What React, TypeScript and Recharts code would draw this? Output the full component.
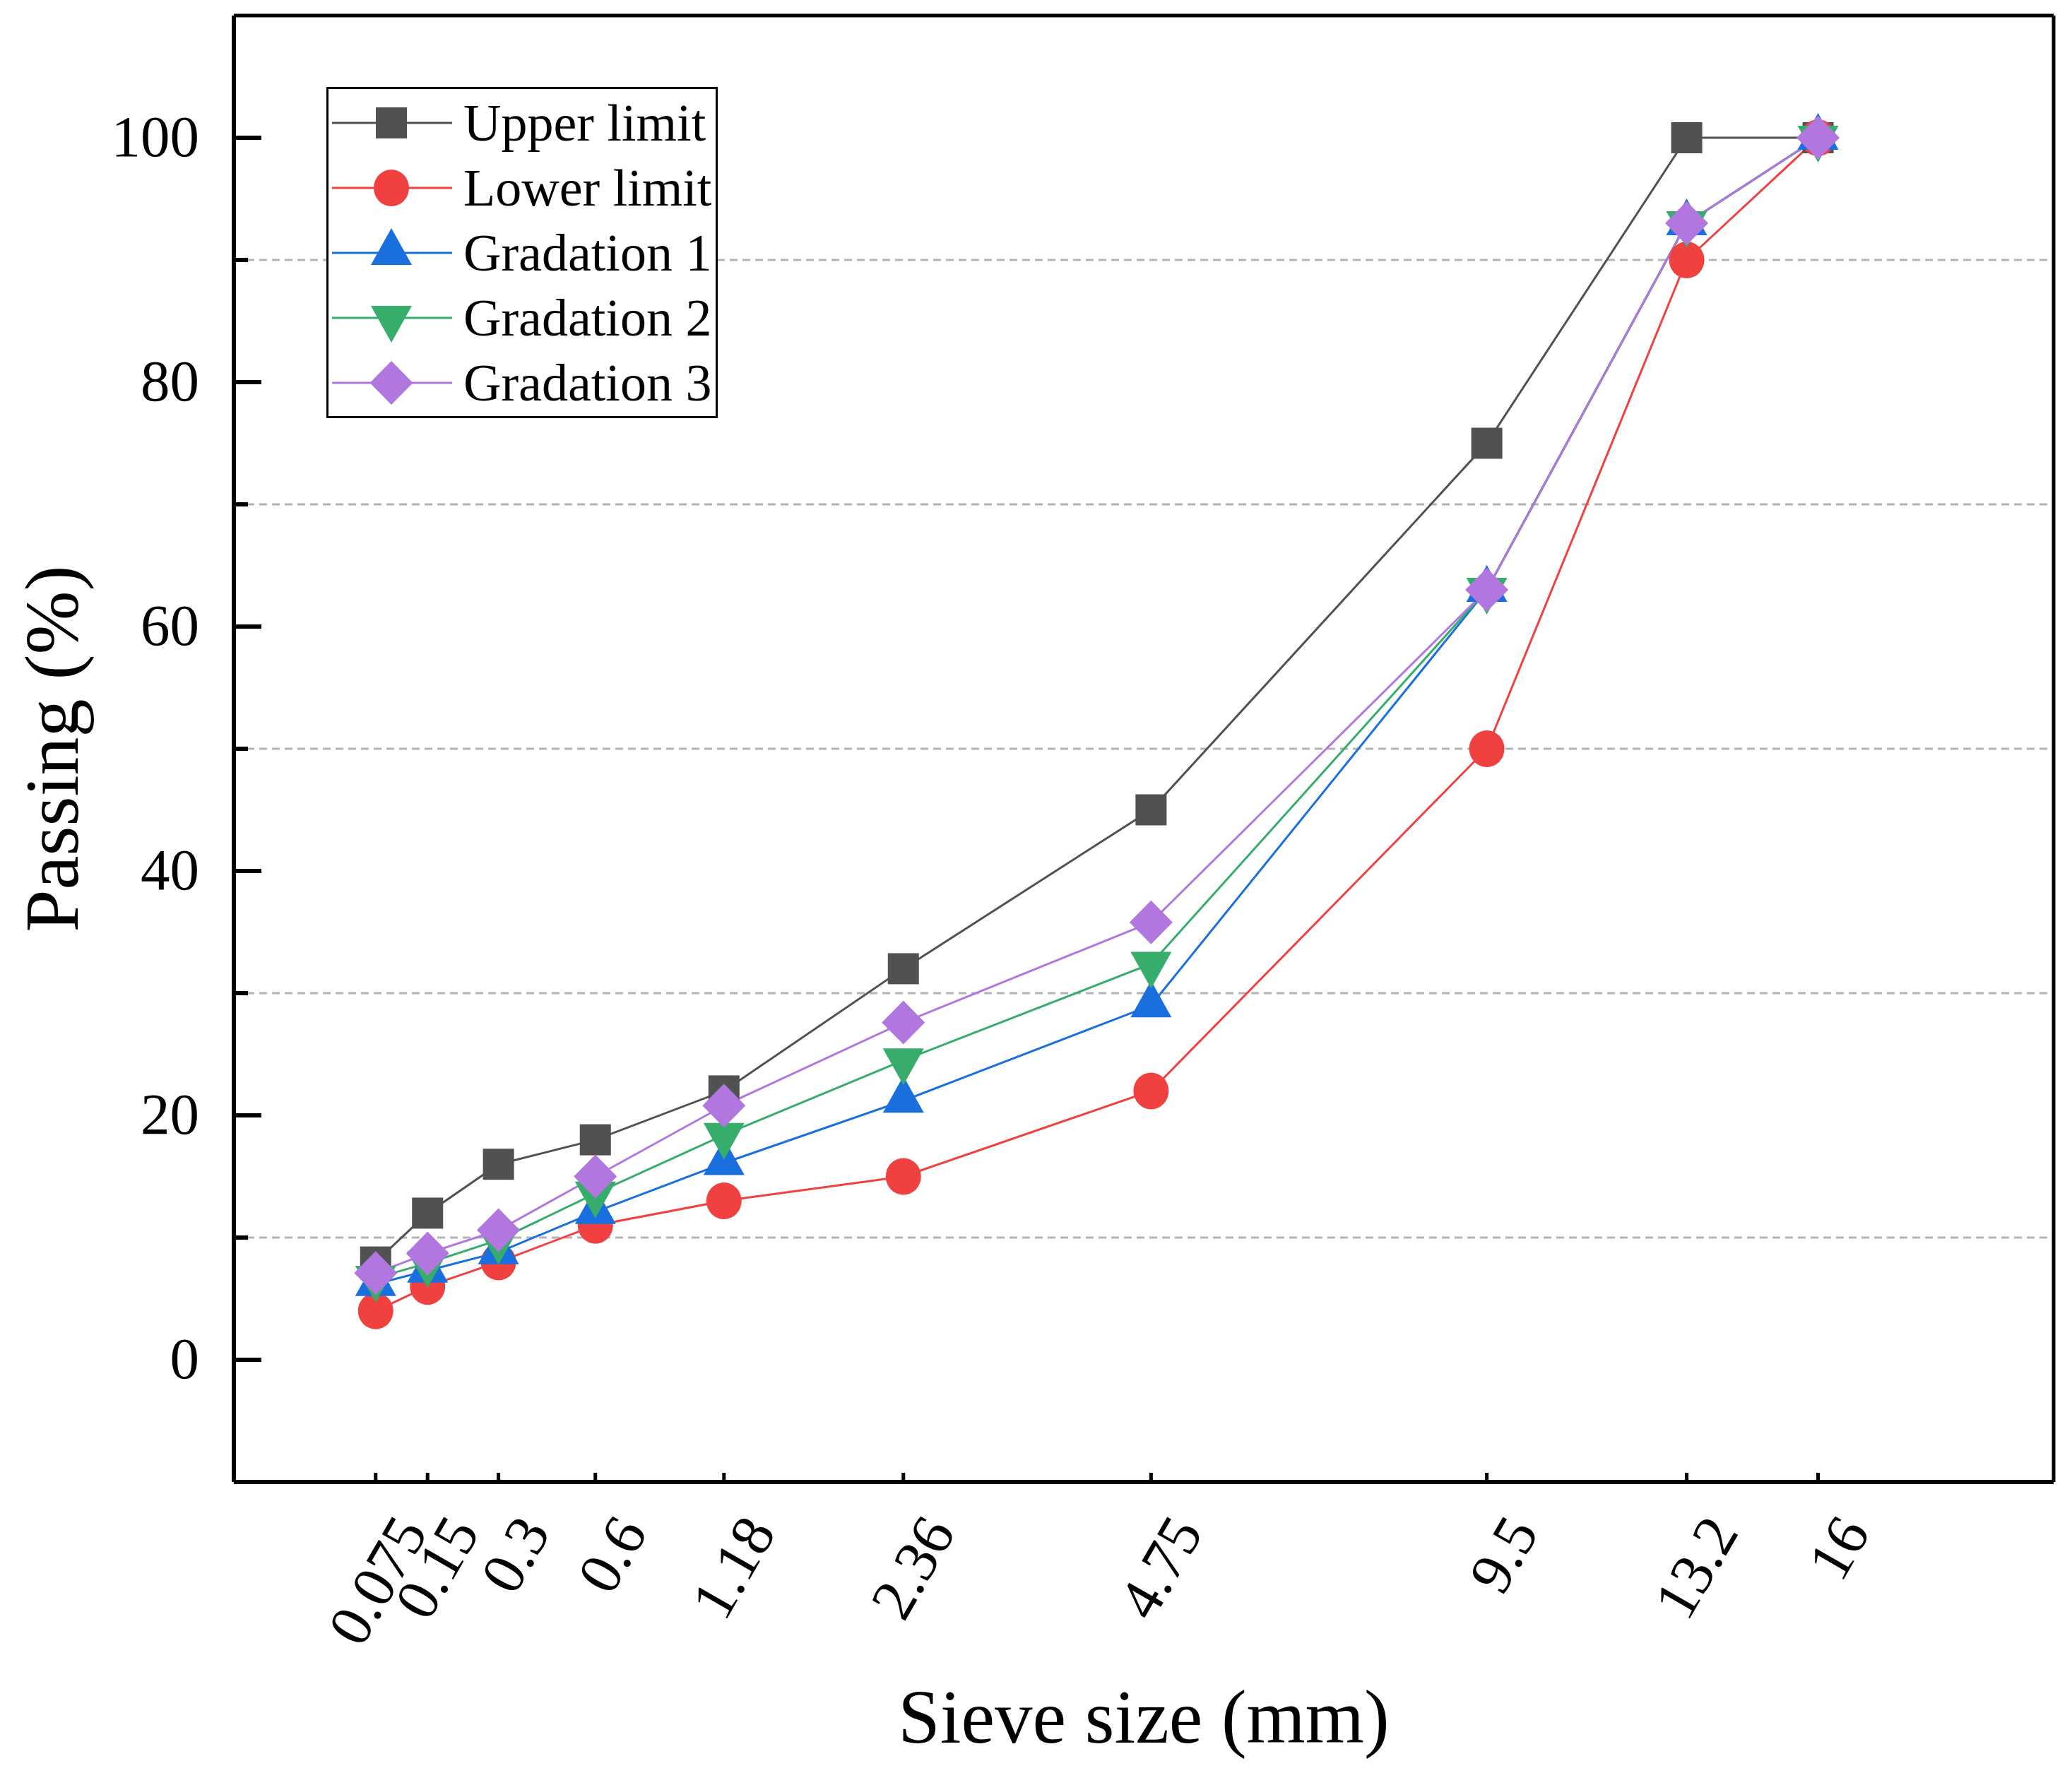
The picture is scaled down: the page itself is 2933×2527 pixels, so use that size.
import React from 'react';
import { LineChart, Line, XAxis, YAxis, CartesianGrid, Legend, Label, ReferenceLine } from 'recharts';

const sieveSizes = [0.075, 0.15, 0.3, 0.6, 1.18, 2.36, 4.75, 9.5, 13.2, 16];
const sieveLabels = ['0.075', '0.15', '0.3', '0.6', '1.18', '2.36', '4.75', '9.5', '13.2', '16'];
const upperLimit = [8, 12, 16, 18, 22, 32, 45, 75, 100, 100];
const lowerLimit = [4, 6, 8, 11, 13, 15, 22, 50, 90, 100];
const gradation1 = [6.2, 7.3, 8.8, 12.1, 16.1, 21.2, 29.0, 63, 93, 100];
const gradation2 = [6.7, 7.9, 9.8, 13.6, 18.4, 24.5, 32.4, 63, 93, 100];
const gradation3 = [7.1, 8.7, 10.6, 15.0, 20.8, 27.6, 35.8, 63, 93, 100];

const seriesKeys = ['upper', 'lower', 'g1', 'g2', 'g3'];
const seriesNames = ['Upper limit', 'Lower limit', 'Gradation 1', 'Gradation 2', 'Gradation 3'];
const seriesColors = ['#515151', '#F14040', '#1A6FDF', '#37AD6B', '#B177DE'];
const seriesShapes = ['square', 'circle', 'up', 'down', 'diamond'];

const yTicks = [0, 10, 20, 30, 40, 50, 60, 70, 80, 90, 100];
const gridValues = [10, 30, 50, 70, 90];
const xDomain = [0, 4];
const yDomain = [-10, 110];

// gradation chart abscissa: sieve size raised to the 0.45 power
const EXP = 0.45;
const pos = (s: number) => Math.pow(s, EXP);
const xTicks = sieveSizes.map(pos);

const data = sieveSizes.map((s, i) => ({
  size: s,
  x: pos(s),
  upper: upperLimit[i],
  lower: lowerLimit[i],
  g1: gradation1[i],
  g2: gradation2[i],
  g3: gradation3[i],
}));

const FONT = '"Liberation Serif", "Times New Roman", serif';

function Marker({ shape, cx, cy, color }: any) {
  if (cx == null || cy == null) return null;
  switch (shape) {
    case 'square':
      return <rect x={cx - 22} y={cy - 22} width={44} height={44} fill={color} />;
    case 'circle':
      return <ellipse cx={cx} cy={cy} rx={25} ry={26} fill={color} />;
    case 'up':
      return <polygon points={`${cx},${cy - 35} ${cx + 29},${cy + 17} ${cx - 29},${cy + 17}`} fill={color} />;
    case 'down':
      return <polygon points={`${cx - 29},${cy - 17} ${cx + 29},${cy - 17} ${cx},${cy + 35}`} fill={color} />;
    case 'diamond':
      return <polygon points={`${cx},${cy - 31} ${cx + 30.5},${cy} ${cx},${cy + 31} ${cx - 30.5},${cy}`} fill={color} />;
    default:
      return null;
  }
}

const XTick = (props: any) => {
  const { x, y, payload } = props;
  const idx = xTicks.findIndex((t) => Math.abs(t - payload.value) < 1e-9);
  const label = idx >= 0 ? sieveLabels[idx] : '';
  const tx = x + 75;
  const ty = y + 71;
  return (
    <g>
      <line x1={x} y1={y} x2={x} y2={y - 13} stroke="#000" strokeWidth={5} />
      <text
        x={tx}
        y={ty}
        textAnchor="end"
        fontSize={85}
        fontFamily={FONT}
        fill="#000"
        transform={`rotate(-60 ${tx} ${ty})`}
      >
        {label}
      </text>
    </g>
  );
};

const YTick = (props: any) => {
  const { x, y, payload } = props;
  const v = payload.value;
  const major = v % 20 === 0;
  return (
    <g>
      <line x1={x} y1={y} x2={x + (major ? 39 : 20)} y2={y} stroke="#000" strokeWidth={6} />
      {major && (
        <text x={x - 49} y={y + 26} textAnchor="end" fontSize={83} fontFamily={FONT} fill="#000">
          {v}
        </text>
      )}
    </g>
  );
};

const YTitle = (props: any) => {
  const vb = props.viewBox || { x: 0, y: 22, width: 331, height: 2076 };
  const tx = vb.x + 110;
  const ty = vb.y + vb.height / 2;
  return (
    <text
      x={tx}
      y={ty}
      textAnchor="middle"
      fontSize={108}
      fontFamily={FONT}
      fill="#000"
      transform={`rotate(-90 ${tx} ${ty})`}
    >
      Passing (%)
    </text>
  );
};

const XTitle = (props: any) => {
  const vb = props.viewBox || { x: 331, y: 2098, width: 2576, height: 429 };
  const tx = vb.x + vb.width / 2;
  const ty = vb.y + 369;
  return (
    <text x={tx} y={ty} textAnchor="middle" fontSize={107} fontFamily={FONT} fill="#000">
      Sieve size (mm)
    </text>
  );
};

const renderLegend = () => (
  <svg width={554} height={469} style={{ display: 'block' }}>
    <rect x={1.5} y={1.5} width={551} height={466} fill="#fff" stroke="#000" strokeWidth={3} />
    {seriesKeys.map((k, i) => {
      const cy = 51 + i * 92;
      return (
        <g key={k}>
          <line x1={8} y1={cy} x2={178} y2={cy} stroke={seriesColors[i]} strokeWidth={3} />
          <Marker shape={seriesShapes[i]} cx={92} cy={cy} color={seriesColors[i]} />
          <text x={194} y={cy + 25} fontSize={74} fontFamily={FONT} fill="#000">
            {seriesNames[i]}
          </text>
        </g>
      );
    })}
  </svg>
);

export default function App() {
  return (
    <div
      style={{
        position: 'absolute',
        left: 0,
        top: 0,
        width: 2933,
        height: 2527,
        background: '#fff',
        fontFamily: FONT,
      }}
    >
      <LineChart width={2933} height={2527} data={data} margin={{ top: 22, right: 26, bottom: 0, left: 0 }}>
        <CartesianGrid
          horizontal={true}
          vertical={false}
          horizontalValues={gridValues}
          stroke="#b4b4b4"
          strokeWidth={3}
          strokeDasharray="11 7"
        />
        <XAxis
          dataKey="x"
          type="number"
          domain={xDomain}
          ticks={xTicks}
          interval={0}
          height={429}
          tickSize={0}
          tickMargin={0}
          tickLine={false}
          tick={<XTick />}
          axisLine={{ stroke: '#000', strokeWidth: 6 }}
          allowDataOverflow
        >
          <Label content={<XTitle />} />
        </XAxis>
        <YAxis
          type="number"
          domain={yDomain}
          ticks={yTicks}
          interval={0}
          width={331}
          tickSize={0}
          tickMargin={0}
          tickLine={false}
          tick={<YTick />}
          axisLine={{ stroke: '#000', strokeWidth: 6 }}
          allowDataOverflow
        >
          <Label content={<YTitle />} />
        </YAxis>
        <ReferenceLine y={yDomain[1]} stroke="#000" strokeWidth={5} />
        <ReferenceLine x={xDomain[1]} stroke="#000" strokeWidth={5} />
        <Legend
          layout="vertical"
          align="center"
          verticalAlign="middle"
          content={renderLegend}
          wrapperStyle={{ position: 'absolute', left: 462, top: 123, width: 554, height: 469 }}
        />
        {seriesKeys.map((k, i) => (
          <Line
            key={k}
            type="linear"
            dataKey={k}
            name={seriesNames[i]}
            stroke={seriesColors[i]}
            strokeWidth={3}
            isAnimationActive={false}
            activeDot={false}
            dot={(p: any) => (
              <Marker key={`${k}-${p.index}`} shape={seriesShapes[i]} cx={p.cx} cy={p.cy} color={seriesColors[i]} />
            )}
          />
        ))}
      </LineChart>
    </div>
  );
}
